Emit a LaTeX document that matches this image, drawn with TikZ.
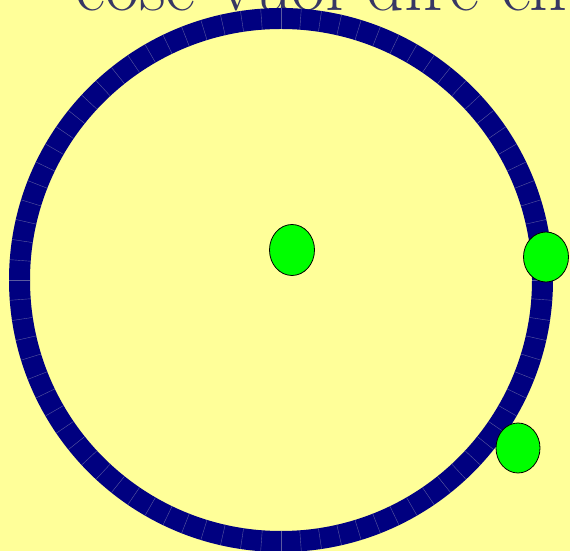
\documentclass[tikz,border=0pt]{standalone}
\usepackage{tikz,xcolor}
\usetikzlibrary{calc}

\definecolor{sfondo}{RGB}{255,255,153}
\definecolor{anello}{RGB}{0,0,128}
\definecolor{giunto}{RGB}{90,90,160}
\definecolor{scritta}{RGB}{55,55,100}
\definecolor{pallina}{RGB}{0,255,0}

\begin{document}
\begin{tikzpicture}[x=1pt,y=1pt]
\fill[sfondo] (0,0) rectangle (570,551);
\useasboundingbox (0,0) rectangle (570,551);
\clip (0,0) rectangle (570,551);

%title
\node[anchor=base west,inner sep=0pt,text=scritta] (titolo) at (75,540) {\fontsize{74}{80}\selectfont cose vuol dire ch};

%ring
\coordinate (c) at (281,271);
\fill[anello,even odd rule] (c) circle (272) (c) circle (251);
\foreach \a in {0,...,83}
  \draw[giunto,line width=0.4pt] ($(c)+(\a*30/7:251)$) -- ($(c)+(\a*30/7:272)$);

%balls
\filldraw[fill=pallina,draw=black,line width=0.8pt] (292,301) ellipse (22.5 and 25.5);
\filldraw[fill=pallina,draw=black,line width=0.8pt] (546,294) ellipse (22.5 and 25);
\filldraw[fill=pallina,draw=black,line width=0.8pt] (518,103) ellipse (22 and 25);

\end{tikzpicture}
\end{document}
